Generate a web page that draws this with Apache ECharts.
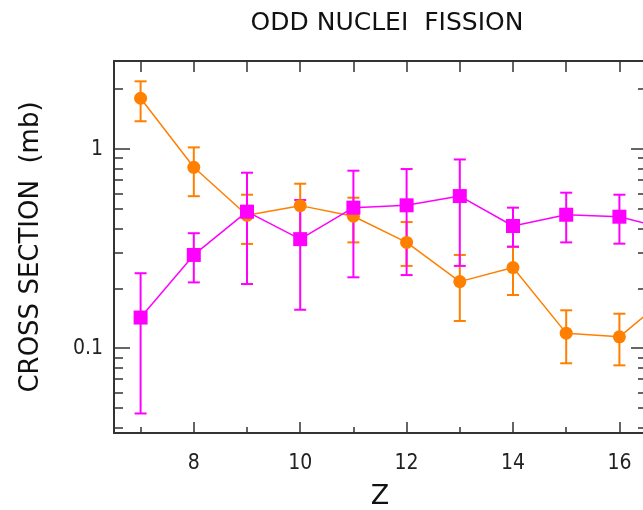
<!DOCTYPE html>
<html>
<head>
<meta charset="utf-8">
<script src="https://cdn.jsdelivr.net/npm/echarts@6/dist/echarts.min.js"></script>
<style>
  html, body { margin: 0; padding: 0; background: #fff; }
  #chart { width: 643px; height: 510px; }
</style>
</head>
<body>
<div id="chart"></div>
<script>
// Z values (17 only continues the line off the right edge)
const zValues = [7, 8, 9, 10, 11, 12, 13, 14, 15, 16, 17];

// orange circles
const orangeVal  = [1.80, 0.81, 0.465, 0.52, 0.46, 0.34, 0.216, 0.254, 0.119, 0.114, 0.19];
const orangeLow  = [1.38, 0.58, 0.334, 0.36, 0.34, 0.259, 0.137, 0.185, 0.084, 0.082];
const orangeHigh = [2.19, 1.02, 0.59, 0.67, 0.57, 0.43, 0.294, 0.323, 0.155, 0.149];

// magenta squares
const magentaVal  = [0.1425, 0.294, 0.485, 0.353, 0.508, 0.522, 0.581, 0.411, 0.468, 0.4575, 0.39];
const magentaLow  = [0.047, 0.214, 0.210, 0.156, 0.227, 0.233, 0.259, 0.3235, 0.340, 0.335];
const magentaHigh = [0.238, 0.378, 0.761, 0.555, 0.779, 0.794, 0.887, 0.508, 0.604, 0.590];

// ticks
const xMajor = [8, 10, 12, 14, 16];
const xMinor = [7, 9, 11, 13, 15];
const xTop = [7, 8, 9, 10, 11, 12, 13, 14, 15, 16];
const yMajor = [0.1, 1];
const yMinor = [0.04, 0.05, 0.06, 0.07, 0.08, 0.09, 0.2, 0.3, 0.4, 0.5, 0.6, 0.7, 0.8, 0.9, 2];

const X_MIN = 6.5, X_MAX = 16.5;
const Y_MIN = 0.0375, Y_MAX = 2.77;

const axisColor = '#333';
const orange = '#ff7f00';
const magenta = '#ff00ff';
const tickFont = '"Liberation Sans Narrow", "DejaVu Sans Condensed", sans-serif';
const textFont = '"DejaVu Sans", sans-serif';

function xAxisDef(pos, ticks, len, showLine, showLabel) {
  return {
    type: 'value', position: pos, min: X_MIN, max: X_MAX,
    axisLine: { show: showLine, lineStyle: { color: axisColor, width: 2 } },
    axisTick: { show: true, inside: true, length: len, customValues: ticks,
                lineStyle: { color: axisColor, width: 1.5 } },
    axisLabel: { show: showLabel, customValues: ticks, margin: 20,
                 fontFamily: tickFont, fontSize: 21, color: '#222' },
    splitLine: { show: false }
  };
}

function yAxisDef(pos, ticks, len, showLine, showLabel) {
  return {
    type: 'log', position: pos, min: Y_MIN, max: Y_MAX, logBase: 10,
    axisLine: { show: showLine, lineStyle: { color: axisColor, width: 2 } },
    axisTick: { show: true, inside: true, length: len, customValues: ticks,
                lineStyle: { color: axisColor, width: 1.5 } },
    axisLabel: { show: showLabel, customValues: ticks, margin: 11,
                 fontFamily: tickFont, fontSize: 21, color: '#222',
                 formatter: v => String(v) },
    splitLine: { show: false }
  };
}

function errorBars(low, high, color) {
  return {
    type: 'custom',
    xAxisIndex: 0, yAxisIndex: 0,
    data: low.map((lo, i) => [zValues[i], lo, high[i]]),
    encode: { x: 0, y: [1, 2] },
    renderItem: (params, api) => {
      const lo = api.coord([api.value(0), api.value(1)]);
      const hi = api.coord([api.value(0), api.value(2)]);
      const w = 6;
      const style = { stroke: color, lineWidth: 2 };
      return {
        type: 'group',
        children: [
          { type: 'line', shape: { x1: hi[0], y1: hi[1], x2: lo[0], y2: lo[1] }, style },
          { type: 'line', shape: { x1: hi[0] - w, y1: hi[1], x2: hi[0] + w, y2: hi[1] }, style },
          { type: 'line', shape: { x1: lo[0] - w, y1: lo[1], x2: lo[0] + w, y2: lo[1] }, style }
        ]
      };
    }
  };
}

function lineSeries(vals, color, symbol, size) {
  return {
    type: 'line',
    xAxisIndex: 0, yAxisIndex: 0,
    data: vals.map((v, i) => [zValues[i], v]),
    symbol: symbol, symbolSize: size,
    showAllSymbol: true,
    clip: true,
    lineStyle: { color: color, width: 1.5 },
    itemStyle: { color: color, opacity: 1 }
  };
}

const chart = echarts.init(document.getElementById('chart'));
chart.setOption({
  animation: false,
  backgroundColor: '#fff',
  title: {
    text: 'ODD NUCLEI  FISSION',
    left: 382, top: 6, textAlign: 'center',
    textStyle: { fontFamily: textFont, fontSize: 25, fontWeight: 'normal', color: '#111' }
  },
  grid: { left: 114, top: 61, right: -3, bottom: 77, outerBoundsMode: 'none', containLabel: false },
  xAxis: [
    Object.assign(xAxisDef('bottom', xMajor, 11, true, true), {
      name: 'Z', nameLocation: 'middle', nameGap: 50,
      nameTextStyle: { fontFamily: textFont, fontSize: 27, color: '#111' }
    }),
    xAxisDef('bottom', xMinor, 6, false, false),
    xAxisDef('top', xTop, 11, true, false)
  ],
  yAxis: [
    Object.assign(yAxisDef('left', yMajor, 16, true, true), {
      name: 'CROSS SECTION  (mb)', nameLocation: 'middle', nameGap: 70,
      nameTextStyle: { fontFamily: textFont, fontSize: 26, color: '#111' }
    }),
    yAxisDef('left', yMinor, 9, false, false),
    yAxisDef('right', yMajor, 15, true, false),
    yAxisDef('right', yMinor, 8, false, false)
  ],
  series: [
    errorBars(orangeLow, orangeHigh, orange),
    lineSeries(orangeVal, orange, 'circle', 13),
    errorBars(magentaLow, magentaHigh, magenta),
    lineSeries(magentaVal, magenta, 'rect', 14)
  ]
});
</script>
</body>
</html>
